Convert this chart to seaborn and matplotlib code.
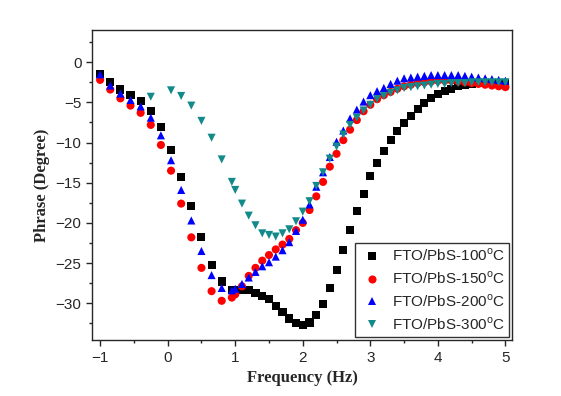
import numpy as np
import pandas as pd
import seaborn as sns
import matplotlib.pyplot as plt
from matplotlib.ticker import MultipleLocator

# log frequency values (shared by the 100/150/200 C samples)
x_main = [-1.0, -0.85, -0.7, -0.55, -0.4, -0.25, -0.1, 0.05, 0.2, 0.35, 0.5, 0.65, 0.8, 0.95,
          1.0, 1.1, 1.2, 1.3, 1.4, 1.5, 1.6, 1.7, 1.8, 1.9, 2.0, 2.1, 2.2, 2.3, 2.4, 2.5,
          2.6, 2.7, 2.8, 2.9, 3.0, 3.1, 3.2, 3.3, 3.4, 3.5, 3.6, 3.7, 3.8, 3.9, 4.0,
          4.1, 4.2, 4.3, 4.4, 4.5, 4.6, 4.7, 4.8, 4.9, 5.0]
x_300 = [-0.25, 0.05, 0.2, 0.35, 0.5, 0.65, 0.8, 0.95,
         1.0, 1.1, 1.2, 1.3, 1.4, 1.5, 1.6, 1.7, 1.8, 1.9, 2.0, 2.1, 2.2, 2.3, 2.4, 2.5,
         2.6, 2.7, 2.8, 2.9, 3.0, 3.1, 3.2, 3.3, 3.4, 3.5, 3.6, 3.7, 3.8, 3.9, 4.0,
         4.1, 4.2, 4.3, 4.4, 4.5, 4.6, 4.7, 4.8, 4.9, 5.0]

phase_100 = [-1.5, -2.5, -3.4, -4.1, -4.8, -6.1, -8.1, -10.9, -14.3, -17.9, -21.8, -25.2, -27.3, -28.3,
             -28.3, -28.3, -28.4, -28.7, -29.1, -29.5, -30.3, -31.1, -31.9, -32.5, -32.7, -32.4,
             -31.5, -30.1, -28.1, -25.9, -23.4, -20.9, -18.5, -16.4, -14.2, -12.5, -11.0, -9.7,
             -8.6, -7.6, -6.7, -5.8, -5.1, -4.5, -4.0, -3.6, -3.3, -3.0, -2.8, -2.7, -2.6, -2.6,
             -2.6, -2.6, -2.6]
phase_150 = [-2.2, -3.4, -4.5, -5.4, -6.3, -7.8, -10.3, -13.5, -17.6, -21.8, -25.6, -28.5, -29.7, -29.3,
             -28.9, -27.9, -26.6, -25.6, -24.7, -24.0, -23.3, -22.7, -22.0, -20.9, -20.0, -18.4,
             -16.7, -14.9, -13.0, -11.4, -9.7, -8.4, -7.2, -6.1, -5.3, -4.6, -4.1, -3.7, -3.3,
             -3.0, -2.8, -2.6, -2.5, -2.4, -2.3, -2.3, -2.3, -2.4, -2.5, -2.6, -2.7, -2.8, -2.9,
             -3.0, -3.1]
phase_200 = [-1.5, -2.9, -3.9, -4.7, -5.5, -6.9, -9.1, -12.2, -15.9, -19.7, -23.5, -26.5, -28.1, -28.4,
             -28.2, -27.6, -26.8, -26.1, -25.4, -24.9, -24.2, -23.4, -22.4, -21.0, -19.6, -17.7,
             -15.5, -13.7, -11.8, -9.9, -8.5, -7.0, -5.9, -4.9, -4.1, -3.6, -3.2, -2.7, -2.3,
             -2.0, -1.9, -1.8, -1.7, -1.6, -1.6, -1.6, -1.6, -1.6, -1.7, -1.8, -1.9, -2.0, -2.1,
             -2.2, -2.3]
phase_300 = [-4.3, -3.5, -4.2, -5.4, -7.3, -9.4, -12.1, -14.9,
             -15.9, -17.6, -19.1, -20.3, -21.3, -21.5, -21.7, -21.3, -20.8, -19.8, -18.6, -17.3,
             -15.4, -13.7, -12.0, -10.5, -9.0, -7.8, -6.9, -6.0, -5.3, -4.6, -4.2, -3.8, -3.5,
             -3.2, -3.1, -3.0, -2.9, -2.8, -2.7, -2.7, -2.6, -2.6, -2.6, -2.5, -2.5, -2.5, -2.5,
             -2.5, -2.5]

labels = ["FTO/PbS-100$^{\\mathrm{o}}$C", "FTO/PbS-150$^{\\mathrm{o}}$C",
          "FTO/PbS-200$^{\\mathrm{o}}$C", "FTO/PbS-300$^{\\mathrm{o}}$C"]
colors = ["black", "#FF0000", "#0000FF", "#138A8A"]
markers = ["s", "o", "^", "v"]

df = pd.concat([
    pd.DataFrame({"freq": x_main, "phase": phase_100, "sample": labels[0]}),
    pd.DataFrame({"freq": x_main, "phase": phase_150, "sample": labels[1]}),
    pd.DataFrame({"freq": x_main, "phase": phase_200, "sample": labels[2]}),
    pd.DataFrame({"freq": x_300, "phase": phase_300, "sample": labels[3]}),
])

sns.set_style("ticks")
plt.rcParams["font.family"] = ["Liberation Sans", "DejaVu Sans"]
plt.rcParams["mathtext.fontset"] = "custom"
plt.rcParams["mathtext.rm"] = "Liberation Sans"

fig = plt.figure(figsize=(5.61, 3.96), dpi=100)
ax = fig.add_axes([0.164, 0.141, 0.749, 0.783])

sns.scatterplot(data=df, x="freq", y="phase", hue="sample", style="sample",
                palette=dict(zip(labels, colors)), markers=dict(zip(labels, markers)),
                hue_order=labels, style_order=labels,
                s=34, linewidth=0, ax=ax, zorder=3)

ax.set_xlim(-1.12, 5.1)
ax.set_ylim(-34.6, 4)
ax.xaxis.set_major_locator(MultipleLocator(1))
ax.xaxis.set_minor_locator(MultipleLocator(0.5))
ax.yaxis.set_major_locator(MultipleLocator(5))
ax.yaxis.set_minor_locator(MultipleLocator(2.5))
ax.tick_params(which="major", direction="out", length=4, width=1, labelsize=11)
ax.tick_params(which="minor", direction="out", length=2.5, width=1)
for sp in ax.spines.values():
    sp.set_visible(True)
    sp.set_linewidth(1)

ax.set_xlabel("Frequency (Hz)", fontsize=12, fontweight="bold", family="Liberation Serif")
ax.set_ylabel("Phrase (Degree)", fontsize=12, fontweight="bold", family="Liberation Serif")

leg = ax.legend(loc="lower right", fontsize=11, frameon=True, fancybox=False,
                edgecolor="black", borderpad=0.3, labelspacing=0.4, handletextpad=0.5,
                handlelength=1.6, borderaxespad=0.2, title=None)
leg.get_frame().set_linewidth(1)

fig.savefig("out.png", dpi=100)
